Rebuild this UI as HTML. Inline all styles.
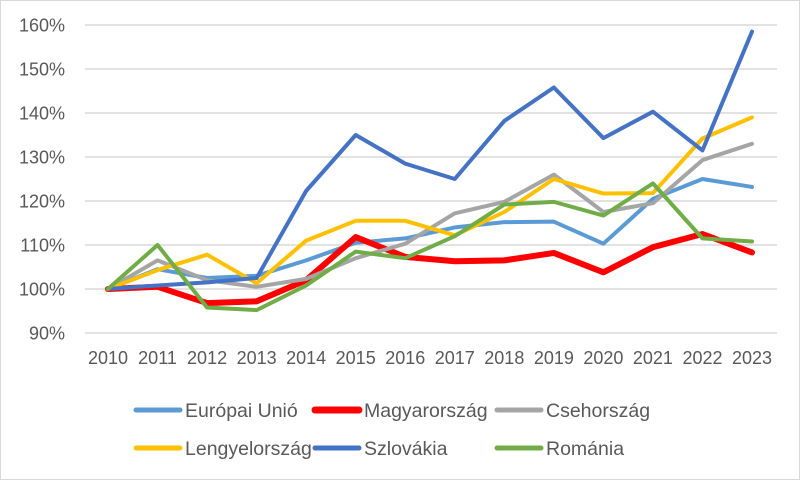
<!DOCTYPE html>
<html><head><meta charset="utf-8"><style>
html,body{margin:0;padding:0;background:#fff}
svg{display:block;font-family:"Liberation Sans",sans-serif}
</style></head><body>
<svg id="chart" width="800" height="480">
<rect x="0.5" y="0.5" width="799" height="479" fill="#fff" stroke="#d9d9d9"/>
<g id="grid"></g>
<g id="yaxis"></g>
<g id="xaxis"></g>
<g id="series"></g>
<g id="legend"></g>
</svg>
<script>
const years = ["2010","2011","2012","2013","2014","2015","2016","2017","2018","2019","2020","2021","2022","2023"];
const yTicks = [90,100,110,120,130,140,150,160];
const seriesNames = ["Európai Unió","Magyarország","Csehország","Lengyelország","Szlovákia","Románia"];
const euValues = [100,104.5,102.5,103,106.5,110.5,111.5,114,115.2,115.3,110.3,120.5,125,123.2];
const huValues = [100,100.5,96.8,97.2,102,111.8,107.3,106.3,106.5,108.2,103.8,109.5,112.5,108.3];
const czValues = [100,106.5,102,100.5,102.3,107,110.3,117.2,119.8,126,117.5,119.5,129.3,133];
const plValues = [100,104.3,107.8,101.3,111,115.5,115.5,112.2,117.5,125,121.7,121.8,134.2,139];
const skValues = [100,100.8,101.5,102.5,122.3,135,128.5,125,138.2,145.8,134.3,140.3,131.5,158.5];
const roValues = [100,110,95.8,95.2,100.8,108.5,107,112,119.2,119.8,116.7,124,111.5,110.8];

const NS="http://www.w3.org/2000/svg";
const colors=["#5B9BD5","#FF0000","#A5A5A5","#FFC000","#4472C4","#70AD47"];
const widths=[4,6,4,4,4,4];
const all=[euValues,huValues,czValues,plValues,skValues,roValues];
const x0=108,xStep=(752-108)/13;
const yMin=90,yMax=160,yTop=25,yBot=333;
const xs=i=>x0+i*xStep;
const ys=v=>yBot-(v-yMin)/(yMax-yMin)*(yBot-yTop);
function mk(tag,attrs,parent){const e=document.createElementNS(NS,tag);for(const k in attrs)e.setAttribute(k,attrs[k]);parent.appendChild(e);return e;}
const grid=document.getElementById('grid'),ya=document.getElementById('yaxis'),xa=document.getElementById('xaxis'),sg=document.getElementById('series'),lg=document.getElementById('legend');
yTicks.forEach(t=>{
  const l=mk('line',{x1:85,x2:777,y1:ys(t),y2:ys(t),stroke:'#d9d9d9','stroke-width':1.5},grid);
  
  
  const tx=mk('text',{x:65,y:ys(t)+6.5,'text-anchor':'end','font-size':18,fill:'#595959'},ya);
  tx.textContent=t+'%';
  
  
});
years.forEach((y,i)=>{
  const tx=mk('text',{x:xs(i),y:364,'text-anchor':'middle','font-size':18,fill:'#595959'},xa);
  tx.textContent=y;
  
  
});
all.forEach((vals,s)=>{
  const p=mk('polyline',{points:vals.map((v,i)=>xs(i)+','+ys(v)).join(' '),fill:'none',stroke:colors[s],'stroke-width':widths[s],'stroke-linejoin':'round','stroke-linecap':'round'},sg);
  
  
});
const legPos=[[136,410],[315,410],[497,410],[136,448],[315,448],[497,448]];
seriesNames.forEach((n,s)=>{
  const [lx,ly]=legPos[s];
  const g=mk('g',{},lg);
  
  
  mk('line',{x1:lx,x2:lx+44,y1:ly,y2:ly,stroke:colors[s],'stroke-width':widths[s]+1,'stroke-linecap':'round'},g);
  const t=mk('text',{x:lx+49,y:ly+7,'font-size':19.5,fill:'#595959'},g);
  t.textContent=n;
});
</script>
</body></html>
